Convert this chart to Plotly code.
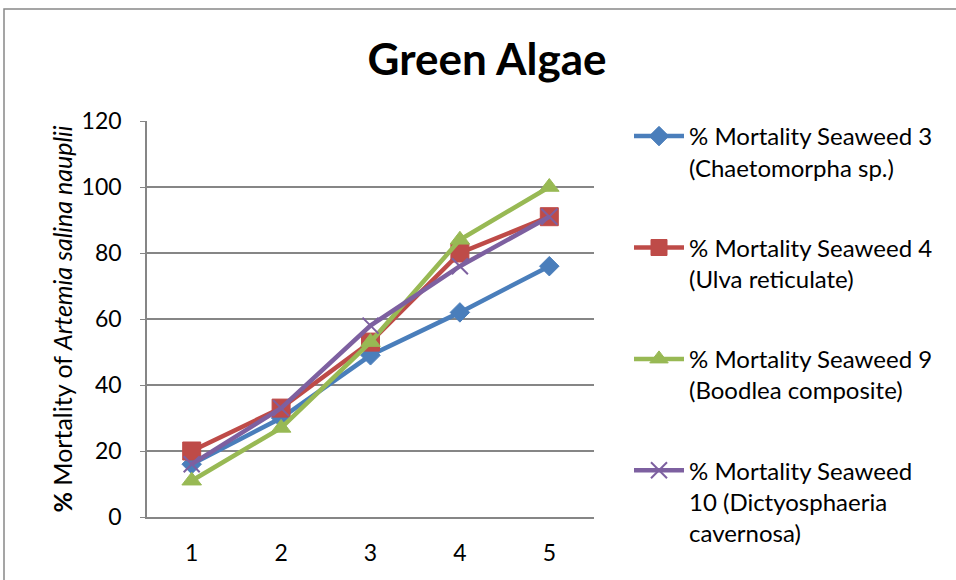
import plotly.graph_objects as go

categories = ["1", "2", "3", "4", "5"]
seaweed3 = [16, 30, 49, 62, 76]
seaweed4 = [20, 33, 53, 80, 91]
seaweed9 = [11, 27, 53, 84, 100]
seaweed10 = [16, 33, 58, 76, 91]

names = [
    "% Mortality Seaweed 3<br>(Chaetomorpha sp.)",
    "% Mortality Seaweed 4<br>(Ulva reticulate)",
    "% Mortality Seaweed 9<br>(Boodlea composite)",
    "% Mortality Seaweed<br>10 (Dictyosphaeria<br>cavernosa)",
]
series = [seaweed3, seaweed4, seaweed9, seaweed10]
colors = ["#4A7EBB", "#BE4B48", "#98B954", "#7D60A0"]
symbols = ["diamond", "square", "triangle-up", "x-thin"]
sizes = [15, 18, 17, 16]

W, H = 956, 580
L, R, T, B = 147, 594, 121, 517

fig = go.Figure()
for i, (nm, ys) in enumerate(zip(names, series)):
    mk = dict(symbol=symbols[i], size=sizes[i], color=colors[i])
    if symbols[i] == "x-thin":
        mk["line"] = dict(color=colors[i], width=2)
    else:
        mk["line"] = dict(color=colors[i], width=1)
    fig.add_trace(go.Scatter(
        x=categories, y=ys, name=nm, mode="lines+markers",
        line=dict(color=colors[i], width=4.5),
        marker=mk, legendgroup=str(i),
    ))

font_family = "Lato, 'Liberation Sans', sans-serif"

fig.update_layout(
    width=W, height=H,
    margin=dict(l=L, r=W - R, t=T, b=H - B),
    paper_bgcolor="white", plot_bgcolor="white",
    font=dict(family=font_family, size=24, color="black"),
    title=dict(text="<b>Green Algae</b>", x=487 / W, xanchor="center",
               y=1 - 60 / H, yanchor="middle",
               font=dict(size=44, family=font_family, color="black")),
    xaxis=dict(range=[-0.5, 4.5], type="category", showgrid=False,
               showline=True, linecolor="#868686", linewidth=1.5,
               ticks="", tickfont=dict(size=23), ticklabelstandoff=15,
               fixedrange=True),
    yaxis=dict(range=[0, 120], dtick=20, showgrid=True, gridcolor="#868686",
               gridwidth=1.5, showline=True, linecolor="#868686", linewidth=1.5,
               ticks="outside", ticklen=5, tickcolor="#868686",
               tickfont=dict(size=23), ticklabelstandoff=14, zeroline=False,
               fixedrange=True,
               title=dict(text="<b>%</b> Mortality of <i>Artemia salina nauplii</i>",
                          font=dict(size=25), standoff=2)),
    legend=dict(x=(629 - L) / (R - L), xanchor="left", y=(B - 114) / (B - T),
                yanchor="top", valign="top", tracegroupgap=46, itemwidth=50,
                maxheight=560,
                font=dict(size=24), bgcolor="rgba(0,0,0,0)"),
    showlegend=True,
)

fig.add_shape(type="rect", xref="paper", yref="paper",
              x0=(4 - L) / (R - L), x1=(960 - L) / (R - L),
              y0=(B - 590) / (B - T), y1=(B - 9) / (B - T),
              line=dict(color="#888888", width=1.5), fillcolor="rgba(0,0,0,0)",
              layer="below")

fig.write_html("out.html", config={"displayModeBar": False},
               post_script="document.body.style.margin='0';document.body.style.overflow='hidden';")
